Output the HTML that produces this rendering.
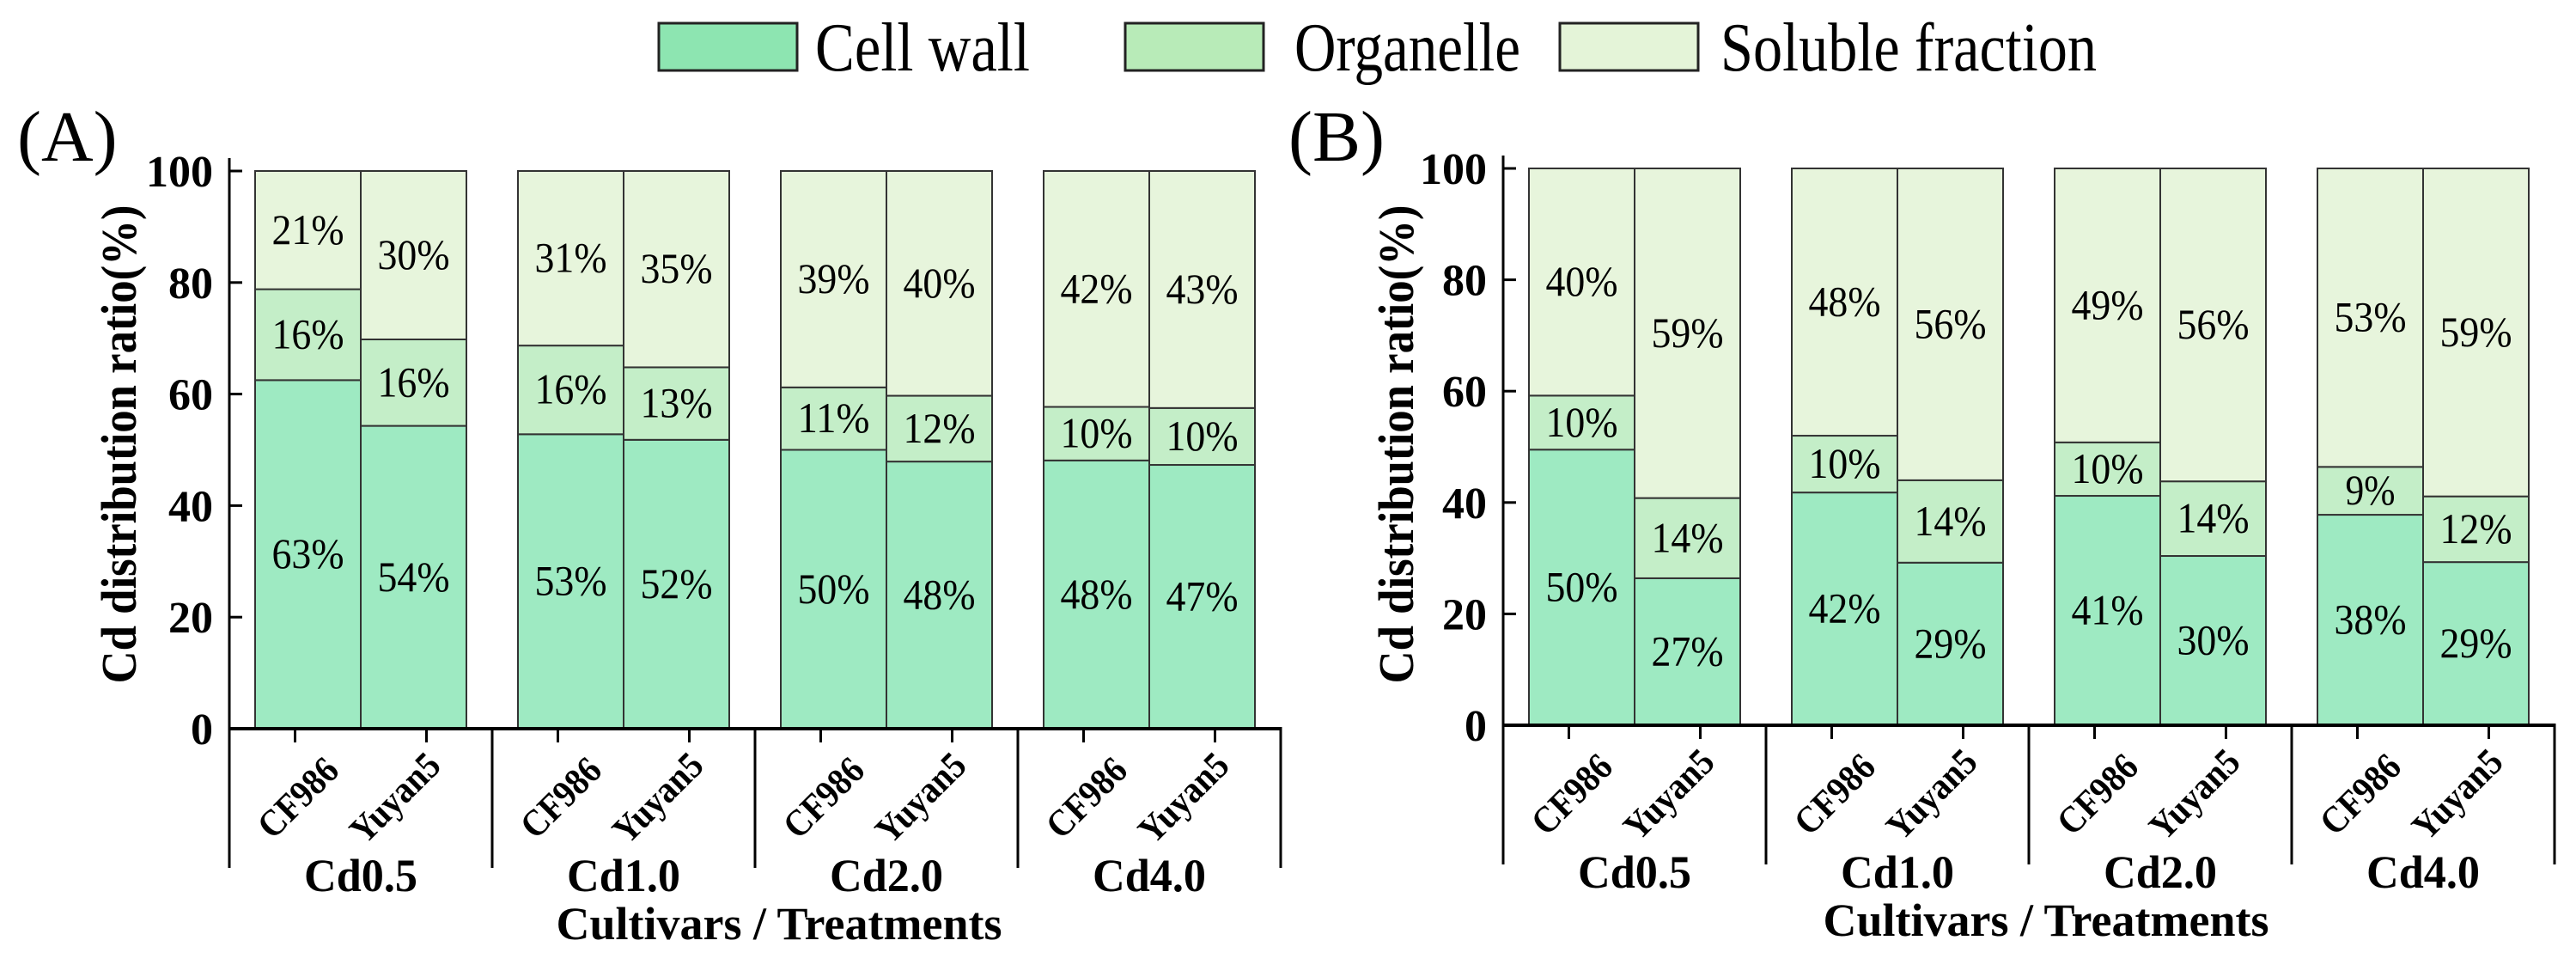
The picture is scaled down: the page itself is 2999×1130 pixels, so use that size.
<!DOCTYPE html>
<html><head><meta charset="utf-8">
<style>
html,body{margin:0;padding:0;background:#fff;}
svg{display:block;}
text{font-family:"Liberation Serif","Times New Roman",serif;fill:#000;}
.b{font-weight:bold;}
</style></head>
<body>
<svg id="chart" width="2999" height="1130" viewBox="0 0 2999 1130" xmlns="http://www.w3.org/2000/svg">
  <g>
    <g>
      <rect x="767" y="27" width="161" height="55" fill="#8de5b1" stroke="#222" stroke-width="3"/>
      <text x="949" y="82" font-size="80" textLength="250" lengthAdjust="spacingAndGlyphs">Cell wall</text>
    </g>
    <g>
      <rect x="1310" y="27" width="161" height="55" fill="#b8ebb8" stroke="#222" stroke-width="3"/>
      <text x="1507" y="82" font-size="80" textLength="263" lengthAdjust="spacingAndGlyphs">Organelle</text>
    </g>
    <g>
      <rect x="1816" y="27" width="161" height="55" fill="#e4f4d8" stroke="#222" stroke-width="3"/>
      <text x="2003" y="82" font-size="80" textLength="438" lengthAdjust="spacingAndGlyphs">Soluble fraction</text>
    </g>
  </g>
</svg>
<script>
// ---- data ----
const treatments = ["Cd0.5","Cd1.0","Cd2.0","Cd4.0"];
const cultivars = ["CF986","Yuyan5"];
const yTicks = [0,20,40,60,80,100];
// Panel A (order: Cd0.5 CF986, Cd0.5 Yuyan5, Cd1.0 CF986, ...)
const cellWallA = [62.5,54.3,52.8,51.8,50.0,47.9,48.1,47.3];
const organelleA = [16.3,15.5,15.9,13.0,11.2,11.8,9.6,10.2];
const cellWallLabelsA = ["63%","54%","53%","52%","50%","48%","48%","47%"];
const organelleLabelsA = ["16%","16%","16%","13%","11%","12%","10%","10%"];
const solubleLabelsA = ["21%","30%","31%","35%","39%","40%","42%","43%"];
// Panel B
const cellWallB = [49.5,26.4,41.8,29.2,41.2,30.4,37.8,29.3];
const organelleB = [9.7,14.4,10.2,14.8,9.6,13.4,8.6,11.8];
const cellWallLabelsB = ["50%","27%","42%","29%","41%","30%","38%","29%"];
const organelleLabelsB = ["10%","14%","10%","14%","10%","14%","9%","12%"];
const solubleLabelsB = ["40%","59%","48%","56%","49%","56%","53%","59%"];

const NS="http://www.w3.org/2000/svg";
const svg=document.getElementById('chart');
const COLORS={cw:"#9eeac2",org:"#c4eec8",sol:"#e7f5dc"};
function mk(tag,attrs,parent){const e=document.createElementNS(NS,tag);for(const k in attrs)e.setAttribute(k,attrs[k]);(parent||svg).appendChild(e);return e;}

function panel(cfg){
  const g=mk('g',{});
  
  
  const ax=cfg.ax, y0=cfg.y0, y100=cfg.y100, gw=306;
  const yS=v=>y0-(v/100)*(y0-y100);
  const xEnd=ax+gw*treatments.length;
  const pl=mk('text',{x:cfg.letterX,y:187,'font-size':84},g);pl.textContent=cfg.letter;
  
  
  const n=treatments.length*cultivars.length;
  for(let i=0;i<n;i++){
    const gi=Math.floor(i/2), ci=i%2;
    const bx=ax+gi*gw+30+ci*123, bw=123;
    const cw=cfg.cw[i], org=cfg.org[i];
    const segs=[[0,cw,COLORS.cw,cfg.cwL[i],'cell-wall'],[cw,cw+org,COLORS.org,cfg.orgL[i],'organelle'],[cw+org,100,COLORS.sol,cfg.solL[i],'soluble']];
    segs.forEach(s=>{
      const r=mk('rect',{x:bx,y:yS(s[1]),width:bw,height:yS(s[0])-yS(s[1]),fill:s[2],stroke:'#333','stroke-width':2},g);
      
      
    });
    segs.forEach(s=>{
      const lbl=s[3];
      const t=mk('text',{x:bx+bw/2,y:(yS(s[0])+yS(s[1]))/2+16,'font-size':50,'text-anchor':'middle',textLength:(lbl.length===2?58:84),lengthAdjust:'spacingAndGlyphs'},g);
      t.textContent=lbl;
      
      
    });
  }
  const ya=mk('line',{x1:ax,y1:y100-15,x2:ax,y2:y0,stroke:'#000','stroke-width':3},g);
  
  
  yTicks.forEach(v=>{
    mk('line',{x1:ax,y1:yS(v),x2:ax+15,y2:yS(v),stroke:'#000','stroke-width':3},g);
    const t=mk('text',{x:ax-19,y:yS(v)+18,'font-size':52,'text-anchor':'end',class:'b'},g);
    t.textContent=v;
    
    
  });
  const yt=mk('text',{x:0,y:0,'font-size':58,'text-anchor':'middle',class:'b',transform:`translate(${cfg.titleX},517) rotate(-90)`,textLength:557,lengthAdjust:'spacingAndGlyphs'},g);
  yt.textContent="Cd distribution ratio(%)";
  
  
  const xa=mk('line',{x1:ax-1.5,y1:y0,x2:xEnd+1.5,y2:y0,stroke:'#000','stroke-width':4},g);
  
  
  for(let k=0;k<=treatments.length;k++){
    mk('line',{x1:ax+k*gw,y1:y0,x2:ax+k*gw,y2:y0+162,stroke:'#000','stroke-width':3},g);
  }
  treatments.forEach((tr,gi)=>{
    cultivars.forEach((cv,ci)=>{
      const tx=ax+gi*gw+gw*(ci===0?0.25:0.75);
      mk('line',{x1:tx,y1:y0,x2:tx,y2:y0+16,stroke:'#000','stroke-width':3},g);
      const cx=tx+(ci===0?3:-37), cy=y0+80;
      const t=mk('text',{x:0,y:0,'font-size':44,'text-anchor':'middle',class:'b',transform:`translate(${cx},${cy}) rotate(-45)`,textLength:(ci===0?112:128),lengthAdjust:'spacingAndGlyphs'},g);
      t.setAttribute('dy','15');
      t.textContent=cv;
      
      
    });
    const t=mk('text',{x:ax+gi*gw+gw/2,y:y0+189,'font-size':54,'text-anchor':'middle',class:'b',textLength:132,lengthAdjust:'spacingAndGlyphs'},g);
    t.textContent=tr;
    
    
  });
  const xt=mk('text',{x:cfg.xTitleX,y:y0+245,'font-size':54,'text-anchor':'middle',class:'b',textLength:519,lengthAdjust:'spacingAndGlyphs'},g);
  xt.textContent="Cultivars / Treatments";
  
  
}
panel({name:'panel-a',letter:'(A)',letterX:20,ax:267,y0:848,y100:199,titleX:158,xTitleX:907,
  cw:cellWallA,org:organelleA,cwL:cellWallLabelsA,orgL:organelleLabelsA,solL:solubleLabelsA});
panel({name:'panel-b',letter:'(B)',letterX:1500,ax:1750,y0:844,y100:196,titleX:1645,xTitleX:2382,
  cw:cellWallB,org:organelleB,cwL:cellWallLabelsB,orgL:organelleLabelsB,solL:solubleLabelsB});
</script>
</body></html>
